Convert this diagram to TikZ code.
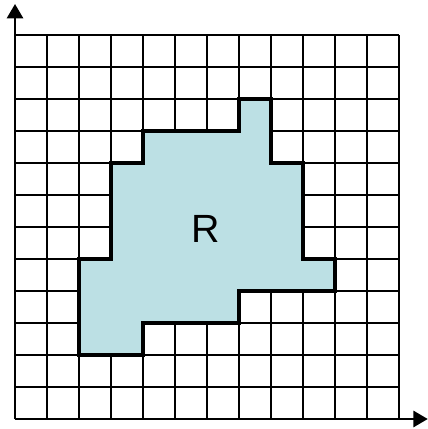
\documentclass[tikz,border=0pt]{standalone}
\usepackage{fontspec}
\setmainfont{Liberation Sans}
\usetikzlibrary{arrows.meta}
\definecolor{regionfill}{RGB}{188,224,228}
\tikzset{
  gridline/.style={line width=1.2pt,black},
  regionborder/.style={line width=3.4pt,black,fill=regionfill,line join=miter},
  axisline/.style={line width=2pt,black,-{Triangle[length=0.36cm,width=0.4cm]}},
  regionlabel/.style={font=\fontsize{28}{30}\selectfont,inner sep=0pt}
}
\begin{document}
\begin{tikzpicture}[x=0.8cm,y=0.8cm]
\useasboundingbox (-0.469,-0.3125) rectangle (12.906,13.094);
\draw[gridline,step=0.8cm] (0,0) grid (12,12);
\draw[regionborder] (3,8) -- (4,8) -- (4,9) -- (7,9) -- (7,10) -- (8,10) -- (8,8) -- (9,8) -- (9,5) -- (10,5) -- (10,4) -- (7,4) -- (7,3) -- (4,3) -- (4,2) -- (2,2) -- (2,5) -- (3,5) -- cycle;
\node[regionlabel] (R) at (5.97,5.94) {R};
\coordinate (O) at (0,0);
\coordinate (xend) at (12.9,0);
\coordinate (yend) at (0,12.97);
\draw[axisline] (O) -- (xend);
\draw[axisline] (O) -- (yend);
\end{tikzpicture}
\end{document}
